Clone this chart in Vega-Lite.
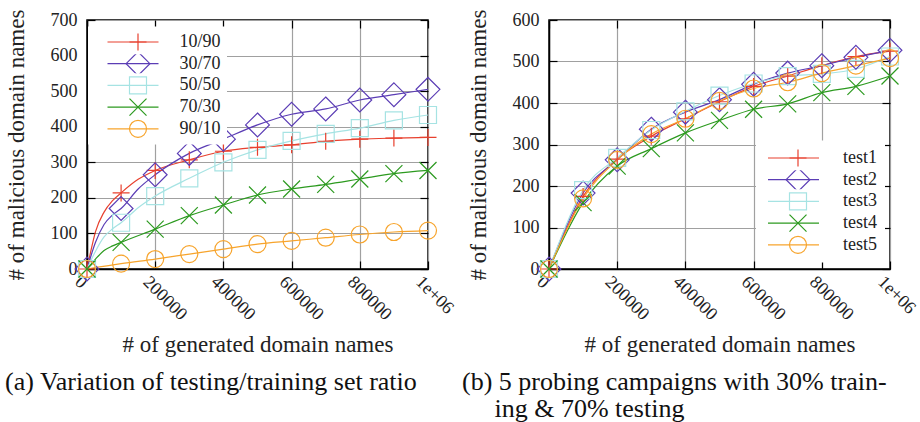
{
  "$schema": "https://vega.github.io/schema/vega-lite/v6.json",
  "background": "white",
  "padding": {"left": 4, "top": 8, "right": 0, "bottom": 0},
  "spacing": 3,
  "resolve": {
    "scale": {"color": "independent", "shape": "independent", "stroke": "independent"},
    "legend": {"color": "independent", "shape": "independent", "stroke": "independent"}
  },
  "datasets": {
    "ratios": [
      {"split": "10/90", "generated": 0, "malicious": 0},
      {"split": "10/90", "generated": 10000, "malicious": 45},
      {"split": "10/90", "generated": 25000, "malicious": 105},
      {"split": "10/90", "generated": 50000, "malicious": 160},
      {"split": "10/90", "generated": 75000, "malicious": 192},
      {"split": "10/90", "generated": 100000, "malicious": 214},
      {"split": "10/90", "generated": 150000, "malicious": 252},
      {"split": "10/90", "generated": 200000, "malicious": 277},
      {"split": "10/90", "generated": 300000, "malicious": 307},
      {"split": "10/90", "generated": 400000, "malicious": 331},
      {"split": "10/90", "generated": 500000, "malicious": 342},
      {"split": "10/90", "generated": 600000, "malicious": 349},
      {"split": "10/90", "generated": 700000, "malicious": 359},
      {"split": "10/90", "generated": 800000, "malicious": 365},
      {"split": "10/90", "generated": 900000, "malicious": 368},
      {"split": "10/90", "generated": 1000000, "malicious": 370},
      {"split": "30/70", "generated": 0, "malicious": 0},
      {"split": "30/70", "generated": 25000, "malicious": 75},
      {"split": "30/70", "generated": 50000, "malicious": 125},
      {"split": "30/70", "generated": 75000, "malicious": 152},
      {"split": "30/70", "generated": 100000, "malicious": 170},
      {"split": "30/70", "generated": 150000, "malicious": 225},
      {"split": "30/70", "generated": 200000, "malicious": 265},
      {"split": "30/70", "generated": 300000, "malicious": 325},
      {"split": "30/70", "generated": 400000, "malicious": 365},
      {"split": "30/70", "generated": 500000, "malicious": 405},
      {"split": "30/70", "generated": 600000, "malicious": 435},
      {"split": "30/70", "generated": 700000, "malicious": 450},
      {"split": "30/70", "generated": 800000, "malicious": 475},
      {"split": "30/70", "generated": 900000, "malicious": 490},
      {"split": "30/70", "generated": 1000000, "malicious": 505},
      {"split": "50/50", "generated": 0, "malicious": 0},
      {"split": "50/50", "generated": 25000, "malicious": 50},
      {"split": "50/50", "generated": 50000, "malicious": 90},
      {"split": "50/50", "generated": 75000, "malicious": 113},
      {"split": "50/50", "generated": 100000, "malicious": 130},
      {"split": "50/50", "generated": 150000, "malicious": 172},
      {"split": "50/50", "generated": 200000, "malicious": 205},
      {"split": "50/50", "generated": 300000, "malicious": 255},
      {"split": "50/50", "generated": 400000, "malicious": 300},
      {"split": "50/50", "generated": 500000, "malicious": 335},
      {"split": "50/50", "generated": 600000, "malicious": 360},
      {"split": "50/50", "generated": 700000, "malicious": 380},
      {"split": "50/50", "generated": 800000, "malicious": 396},
      {"split": "50/50", "generated": 900000, "malicious": 418},
      {"split": "50/50", "generated": 1000000, "malicious": 433},
      {"split": "70/30", "generated": 0, "malicious": 0},
      {"split": "70/30", "generated": 25000, "malicious": 28},
      {"split": "70/30", "generated": 50000, "malicious": 52},
      {"split": "70/30", "generated": 75000, "malicious": 65},
      {"split": "70/30", "generated": 100000, "malicious": 75},
      {"split": "70/30", "generated": 200000, "malicious": 112},
      {"split": "70/30", "generated": 300000, "malicious": 150},
      {"split": "70/30", "generated": 400000, "malicious": 180},
      {"split": "70/30", "generated": 500000, "malicious": 208},
      {"split": "70/30", "generated": 600000, "malicious": 225},
      {"split": "70/30", "generated": 700000, "malicious": 238},
      {"split": "70/30", "generated": 800000, "malicious": 253},
      {"split": "70/30", "generated": 900000, "malicious": 268},
      {"split": "70/30", "generated": 1000000, "malicious": 277},
      {"split": "90/10", "generated": 0, "malicious": 0},
      {"split": "90/10", "generated": 100000, "malicious": 15},
      {"split": "90/10", "generated": 200000, "malicious": 28},
      {"split": "90/10", "generated": 300000, "malicious": 42},
      {"split": "90/10", "generated": 400000, "malicious": 56},
      {"split": "90/10", "generated": 500000, "malicious": 70},
      {"split": "90/10", "generated": 600000, "malicious": 79},
      {"split": "90/10", "generated": 700000, "malicious": 88},
      {"split": "90/10", "generated": 800000, "malicious": 97},
      {"split": "90/10", "generated": 900000, "malicious": 104},
      {"split": "90/10", "generated": 1000000, "malicious": 108}
    ],
    "probes": [
      {"campaign": "test1", "generated": 0, "malicious": 0},
      {"campaign": "test1", "generated": 100000, "malicious": 175},
      {"campaign": "test1", "generated": 200000, "malicious": 265},
      {"campaign": "test1", "generated": 300000, "malicious": 320},
      {"campaign": "test1", "generated": 400000, "malicious": 362},
      {"campaign": "test1", "generated": 500000, "malicious": 403},
      {"campaign": "test1", "generated": 600000, "malicious": 440},
      {"campaign": "test1", "generated": 700000, "malicious": 465},
      {"campaign": "test1", "generated": 800000, "malicious": 490},
      {"campaign": "test1", "generated": 900000, "malicious": 512},
      {"campaign": "test1", "generated": 1000000, "malicious": 525},
      {"campaign": "test2", "generated": 0, "malicious": 0},
      {"campaign": "test2", "generated": 100000, "malicious": 183},
      {"campaign": "test2", "generated": 200000, "malicious": 263},
      {"campaign": "test2", "generated": 300000, "malicious": 337},
      {"campaign": "test2", "generated": 400000, "malicious": 378},
      {"campaign": "test2", "generated": 500000, "malicious": 408},
      {"campaign": "test2", "generated": 600000, "malicious": 445},
      {"campaign": "test2", "generated": 700000, "malicious": 472},
      {"campaign": "test2", "generated": 800000, "malicious": 490},
      {"campaign": "test2", "generated": 900000, "malicious": 510},
      {"campaign": "test2", "generated": 1000000, "malicious": 527},
      {"campaign": "test3", "generated": 0, "malicious": 0},
      {"campaign": "test3", "generated": 100000, "malicious": 190},
      {"campaign": "test3", "generated": 200000, "malicious": 268},
      {"campaign": "test3", "generated": 300000, "malicious": 335},
      {"campaign": "test3", "generated": 400000, "malicious": 380},
      {"campaign": "test3", "generated": 500000, "malicious": 418},
      {"campaign": "test3", "generated": 600000, "malicious": 447},
      {"campaign": "test3", "generated": 700000, "malicious": 465},
      {"campaign": "test3", "generated": 800000, "malicious": 470},
      {"campaign": "test3", "generated": 900000, "malicious": 482},
      {"campaign": "test3", "generated": 1000000, "malicious": 512},
      {"campaign": "test4", "generated": 0, "malicious": 0},
      {"campaign": "test4", "generated": 100000, "malicious": 160},
      {"campaign": "test4", "generated": 200000, "malicious": 248},
      {"campaign": "test4", "generated": 300000, "malicious": 290},
      {"campaign": "test4", "generated": 400000, "malicious": 328},
      {"campaign": "test4", "generated": 500000, "malicious": 358},
      {"campaign": "test4", "generated": 600000, "malicious": 385},
      {"campaign": "test4", "generated": 700000, "malicious": 398},
      {"campaign": "test4", "generated": 800000, "malicious": 425},
      {"campaign": "test4", "generated": 900000, "malicious": 440},
      {"campaign": "test4", "generated": 1000000, "malicious": 465},
      {"campaign": "test5", "generated": 0, "malicious": 0},
      {"campaign": "test5", "generated": 100000, "malicious": 170},
      {"campaign": "test5", "generated": 200000, "malicious": 263},
      {"campaign": "test5", "generated": 300000, "malicious": 325},
      {"campaign": "test5", "generated": 400000, "malicious": 362},
      {"campaign": "test5", "generated": 500000, "malicious": 405},
      {"campaign": "test5", "generated": 600000, "malicious": 435},
      {"campaign": "test5", "generated": 700000, "malicious": 450},
      {"campaign": "test5", "generated": 800000, "malicious": 472},
      {"campaign": "test5", "generated": 900000, "malicious": 490},
      {"campaign": "test5", "generated": 1000000, "malicious": 508}
    ]
  },
  "config": {
    "font": "Liberation Serif",
    "view": {"stroke": "#000", "strokeWidth": 1.5},
    "axis": {
      "labelFont": "Liberation Serif",
      "labelFontSize": 18,
      "labelColor": "#222",
      "titleFont": "Liberation Serif",
      "titleFontSize": 23,
      "titleFontWeight": "normal",
      "titleColor": "#222",
      "domainColor": "#000",
      "domainWidth": 1.5,
      "tickColor": "#000",
      "tickWidth": 1.2,
      "gridColor": "#a0a0a0",
      "gridWidth": 1.2,
      "gridOpacity": 1,
      "labelFlush": false,
      "labelOverlap": false
    },
    "legend": {
      "labelFont": "Liberation Serif",
      "labelFontSize": 18,
      "labelColor": "#222",
      "symbolStrokeWidth": 1.2
    },
    "title": {
      "font": "Liberation Serif",
      "fontSize": 26,
      "fontWeight": "normal",
      "color": "#111",
      "lineHeight": 27
    }
  },
  "hconcat": [
    {
      "width": 341,
      "height": 249,
      "data": {"name": "ratios"},
      "title": {
        "text": "(a) Variation of testing/training set ratio",
        "orient": "bottom",
        "anchor": "start",
        "frame": "bounds",
        "offset": 12
      },
      "layer": [
        {
          "mark": {"type": "line", "strokeWidth": 1.2, "interpolate": "monotone"},
          "encoding": {
            "x": {
              "field": "generated", "type": "quantitative",
              "scale": {"domain": [0, 1000000], "nice": false},
              "axis": {
                "orient": "bottom",
                "values": [0, 200000, 400000, 600000, 800000, 1000000],
                "labelExpr": "datum.value === 1000000 ? '1e+06' : format(datum.value, 'd')",
                "labelAngle": 45, "labelAlign": "left", "labelBaseline": "middle",
                "labelOffset": -10, "labelPadding": 18, "tickSize": -8,
                "grid": true, "title": "# of generated domain names", "titlePadding": 10
              }
            },
            "y": {
              "field": "malicious", "type": "quantitative",
              "scale": {"domain": [0, 700], "nice": false},
              "axis": {
                "orient": "left",
                "values": [0, 100, 200, 300, 400, 500, 600, 700],
                "labelPadding": 18, "tickSize": -8,
                "grid": true, "title": "# of malicious domain names", "titlePadding": 22
              }
            },
            "stroke": {
              "field": "split", "type": "nominal",
              "scale": {"range": ["#e8402e", "#5b3db5", "#a6e3e3", "#2c9a1f", "#f7a42c"]},
              "legend": {
                "title": null, "orient": "none", "legendX": 1, "legendY": 6.5,
                "padding": 6, "fillColor": "white", "symbolType": "stroke", "symbolSize": 2601,
                "clipHeight": 19, "symbolOffset": 12.5, "labelOffset": 20, "rowPadding": 2.7
              }
            }
          }
        },
        {
          "transform": [{"filter": "datum.generated % 100000 === 0"}],
          "mark": {"type": "point", "filled": false, "size": 289, "strokeWidth": 1.2, "opacity": 1},
          "encoding": {
            "x": {
              "field": "generated", "type": "quantitative",
              "axis": {"orient": "top", "values": [0, 200000, 400000, 600000, 800000, 1000000], "labels": false, "grid": false, "domain": false, "tickSize": -8, "title": null}
            },
            "y": {
              "field": "malicious", "type": "quantitative",
              "axis": {"orient": "right", "values": [0, 100, 200, 300, 400, 500, 600, 700], "labels": false, "grid": false, "domain": false, "tickSize": -8, "title": null}
            },
            "color": {
              "field": "split", "type": "nominal",
              "scale": {"domain": ["10/90", "30/70", "50/50", "70/30", "90/10"], "range": ["#e8402e", "#5b3db5", "#a6e3e3", "#2c9a1f", "#f7a42c"]},
              "legend": {
                "title": null, "orient": "none", "legendX": 1, "legendY": 6.5,
                "padding": 6, "symbolSize": 289, "clipHeight": 19, "symbolOffset": 34.5, "labelOffset": 60,
                "rowPadding": 2.7, "labelExpr": "''"
              }
            },
            "shape": {
              "field": "split", "type": "nominal",
              "scale": {"domain": ["10/90", "30/70", "50/50", "70/30", "90/10"], "range": ["M-1,0H1M0,-1V1", "M0,-1.4L1.4,0L0,1.4L-1.4,0Z", "M-1,-1H1V1H-1Z", "M-1,-1L1,1M-1,1L1,-1", "M-1,0A1,1 0 1,1 1,0A1,1 0 1,1 -1,0"]},
              "legend": {
                "title": null, "orient": "none", "legendX": 1, "legendY": 6.5,
                "padding": 6, "symbolSize": 289, "clipHeight": 19, "symbolOffset": 34.5, "labelOffset": 60,
                "rowPadding": 2.7, "labelExpr": "''"
              }
            }
          }
        }
      ],
      "resolve": {"axis": {"x": "independent", "y": "independent"}}
    },
    {
      "width": 341,
      "height": 249,
      "data": {"name": "probes"},
      "title": {
        "text": ["(b) 5 probing campaigns with 30% train-", "\u200b\u00a0\u00a0\u00a0\u00a0\u00a0ing & 70% testing"],
        "orient": "bottom",
        "anchor": "start",
        "frame": "bounds",
        "offset": 12,
        "dx": -5
      },
      "layer": [
        {
          "mark": {"type": "line", "strokeWidth": 1.2, "interpolate": "monotone"},
          "encoding": {
            "x": {
              "field": "generated", "type": "quantitative",
              "scale": {"domain": [0, 1000000], "nice": false},
              "axis": {
                "orient": "bottom",
                "values": [0, 200000, 400000, 600000, 800000, 1000000],
                "labelExpr": "datum.value === 1000000 ? '1e+06' : format(datum.value, 'd')",
                "labelAngle": 45, "labelAlign": "left", "labelBaseline": "middle",
                "labelOffset": -10, "labelPadding": 18, "tickSize": -8,
                "grid": true, "title": "# of generated domain names", "titlePadding": 10
              }
            },
            "y": {
              "field": "malicious", "type": "quantitative",
              "scale": {"domain": [0, 600], "nice": false},
              "axis": {
                "orient": "left",
                "values": [0, 100, 200, 300, 400, 500, 600],
                "labelPadding": 18, "tickSize": -8,
                "grid": true, "title": "# of malicious domain names", "titlePadding": 22
              }
            },
            "stroke": {
              "field": "campaign", "type": "nominal",
              "scale": {"range": ["#e8402e", "#5b3db5", "#a6e3e3", "#2c9a1f", "#f7a42c"]},
              "legend": {
                "title": null, "orient": "none", "legendX": 207, "legendY": 120.5,
                "padding": 8, "fillColor": "white", "symbolType": "stroke", "symbolSize": 2601,
                "clipHeight": 19, "symbolOffset": 3, "labelOffset": 23, "rowPadding": 2.7
              }
            }
          }
        },
        {
          "transform": [{"filter": "datum.generated % 100000 === 0"}],
          "mark": {"type": "point", "filled": false, "size": 289, "strokeWidth": 1.2, "opacity": 1},
          "encoding": {
            "x": {
              "field": "generated", "type": "quantitative",
              "axis": {"orient": "top", "values": [0, 200000, 400000, 600000, 800000, 1000000], "labels": false, "grid": false, "domain": false, "tickSize": -8, "title": null}
            },
            "y": {
              "field": "malicious", "type": "quantitative",
              "axis": {"orient": "right", "values": [0, 100, 200, 300, 400, 500, 600], "labels": false, "grid": false, "domain": false, "tickSize": -8, "title": null}
            },
            "color": {
              "field": "campaign", "type": "nominal",
              "scale": {"domain": ["test1", "test2", "test3", "test4", "test5"], "range": ["#e8402e", "#5b3db5", "#a6e3e3", "#2c9a1f", "#f7a42c"]},
              "legend": {
                "title": null, "orient": "none", "legendX": 207, "legendY": 120.5,
                "padding": 8, "symbolSize": 289, "clipHeight": 19, "symbolOffset": 24.5, "labelOffset": 60,
                "rowPadding": 2.7, "labelExpr": "''"
              }
            },
            "shape": {
              "field": "campaign", "type": "nominal",
              "scale": {"domain": ["test1", "test2", "test3", "test4", "test5"], "range": ["M-1,0H1M0,-1V1", "M0,-1.4L1.4,0L0,1.4L-1.4,0Z", "M-1,-1H1V1H-1Z", "M-1,-1L1,1M-1,1L1,-1", "M-1,0A1,1 0 1,1 1,0A1,1 0 1,1 -1,0"]},
              "legend": {
                "title": null, "orient": "none", "legendX": 207, "legendY": 120.5,
                "padding": 8, "symbolSize": 289, "clipHeight": 19, "symbolOffset": 24.5, "labelOffset": 60,
                "rowPadding": 2.7, "labelExpr": "''"
              }
            }
          }
        }
      ],
      "resolve": {"axis": {"x": "independent", "y": "independent"}}
    }
  ]
}
